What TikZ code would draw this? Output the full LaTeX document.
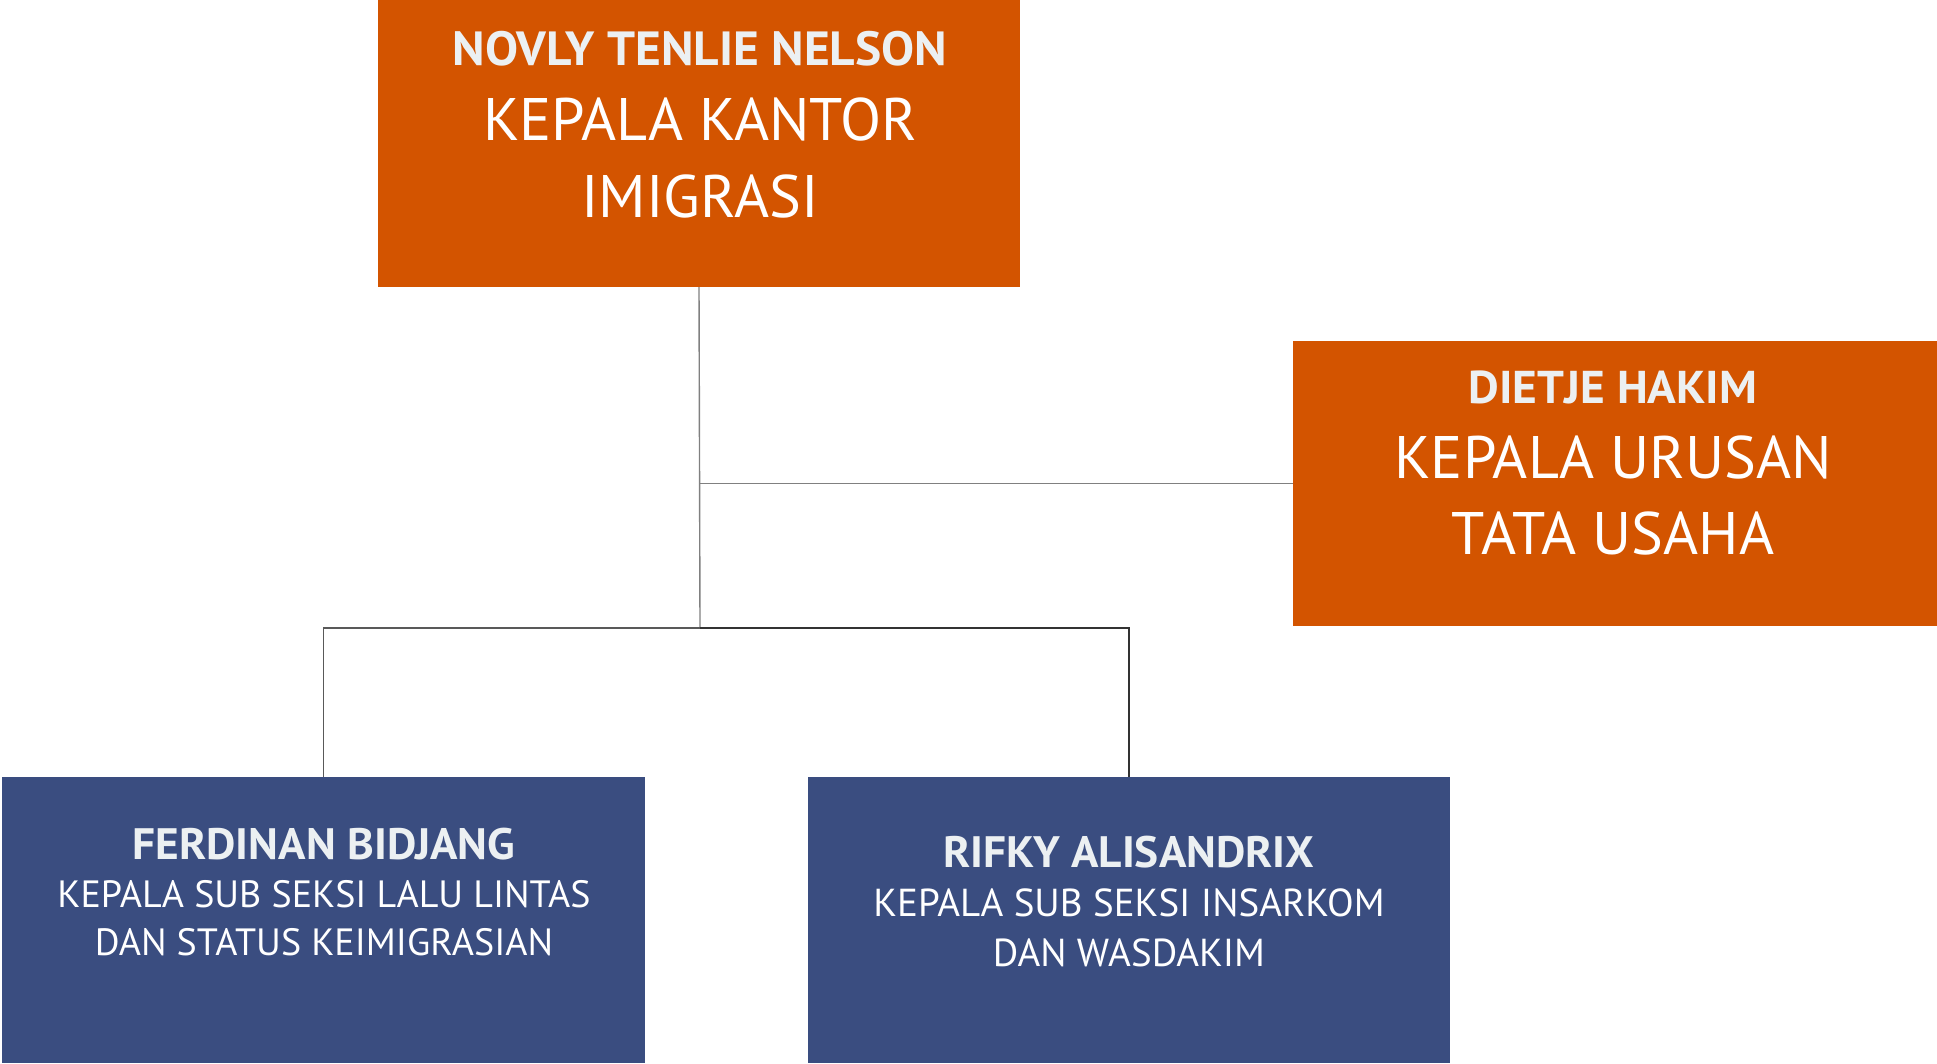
\documentclass[tikz,border=0pt]{standalone}
\usepackage{fontspec}
\newfontfamily\rolefont{PT Sans}
\newfontfamily\namefont[FakeStretch=1.03]{PT Sans Bold}
\definecolor{orangebox}{RGB}{211,84,0}
\definecolor{bluebox}{RGB}{58,77,128}
\definecolor{nametext}{RGB}{236,240,242}
\definecolor{lineg}{RGB}{128,128,128}
\begin{document}
\begin{tikzpicture}[x=1pt,y=-1pt,
  obox/.style={fill=orangebox,draw=none,inner sep=0pt,outer sep=0pt,anchor=north west},
  bbox/.style={fill=bluebox,draw=none,inner sep=0pt,outer sep=0pt,anchor=north west},
  txt/.style={anchor=base,inner sep=0pt,text=white},
  nm/.style={txt,text=nametext},
  gline/.style={draw=lineg,line width=1.4pt},
  mline/.style={draw=black!65,line width=1.5pt},
  dline/.style={draw=black!80,line width=1.6pt}]
\useasboundingbox[fill=white] (0,0) rectangle (1937,1063);
% boxes
\node[obox,minimum width=642pt,minimum height=287pt] (kepala) at (378,0) {};
\node[obox,minimum width=644pt,minimum height=285pt] (tu) at (1293,341) {};
\node[bbox,minimum width=643pt,minimum height=286pt] (ferd) at (2,777) {};
\node[bbox,minimum width=642pt,minimum height=286pt] (rifky) at (808,777) {};
% texts
\node[nm,font=\namefont\fontsize{48}{48}\selectfont] (k1) at (700,65) {NOVLY TENLIE NELSON};
\node[txt,font=\rolefont\fontsize{60}{60}\selectfont] (k2) at (700,140) {KEPALA KANTOR};
\node[txt,font=\rolefont\fontsize{60}{60}\selectfont] (k3) at (700,217) {IMIGRASI};
\node[nm,font=\namefont\fontsize{46}{46}\selectfont] (t1) at (1613,403) {DIETJE HAKIM};
\node[txt,font=\rolefont\fontsize{60}{60}\selectfont] (t2) at (1613,478) {KEPALA URUSAN};
\node[txt,font=\rolefont\fontsize{60}{60}\selectfont] (t3) at (1613,554) {TATA USAHA};
\node[nm,font=\namefont\fontsize{44}{44}\selectfont] (f1) at (324,859) {FERDINAN BIDJANG};
\node[txt,font=\rolefont\fontsize{38}{38}\selectfont] (f2) at (324,907) {KEPALA SUB SEKSI LALU LINTAS};
\node[txt,font=\rolefont\fontsize{38}{38}\selectfont] (f3) at (324,955) {DAN STATUS KEIMIGRASIAN};
\node[nm,font=\namefont\fontsize{44}{44}\selectfont] (r1) at (1129,867) {RIFKY ALISANDRIX};
\node[txt,font=\rolefont\fontsize{39}{39}\selectfont] (r2) at (1129,916) {KEPALA SUB SEKSI INSARKOM};
\node[txt,font=\rolefont\fontsize{39}{39}\selectfont] (r3) at (1129,966) {DAN WASDAKIM};
% connectors
\coordinate (j1) at (700,483.5);
\coordinate (j2) at (700,628);
\draw[gline] (kepala.south) -- (j2);
\draw[gline] (j1) -- (tu.west);
\draw[mline] (j2) -| (ferd.north);
\draw[dline] (j2) -| (rifky.north);
\end{tikzpicture}
\end{document}
